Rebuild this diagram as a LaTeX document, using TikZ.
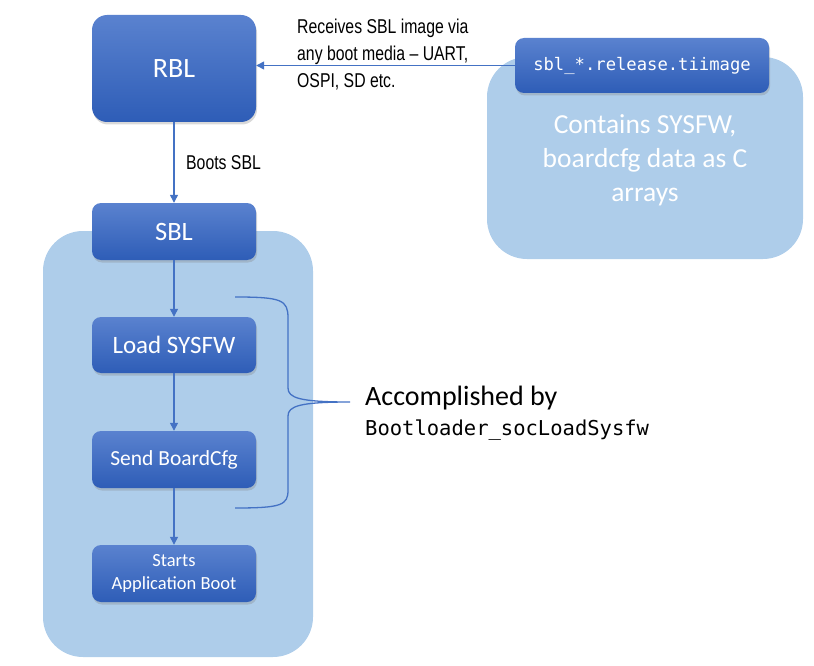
\documentclass[tikz,border=0pt]{standalone}
\usepackage{fontspec}
\setmainfont{Carlito}
\setmonofont{DejaVu Sans Mono}
\newfontfamily\condfont[FakeStretch=0.79]{Liberation Sans}
\usetikzlibrary{shadows,arrows.meta}
\definecolor{boxtop}{HTML}{5A82CF}
\definecolor{boxbot}{HTML}{2E5DB7}
\definecolor{panelc}{HTML}{AECDEA}
\definecolor{linec}{HTML}{4472C4}
\begin{document}
\begin{tikzpicture}[x=1pt,y=-1pt,
  darkbox/.style={rounded corners=9pt, top color=boxtop, bottom color=boxbot, text=white,
    inner sep=0pt, minimum width=164pt, align=center,
    drop shadow={opacity=0.3,shadow xshift=1pt,shadow yshift=-2.5pt}},
  panel/.style={fill=panelc, rounded corners=40pt, inner sep=0pt},
  conn/.style={draw=linec, line width=1.3pt, -{Triangle[length=8pt,width=8pt]}},
  bracec/.style={draw=linec, line width=1.3pt},
  condtext/.style={font=\condfont\fontsize{20}{27}\selectfont, align=left, inner sep=0pt}]
\useasboundingbox (0,0) rectangle (814,666);
% panels
\node[panel, minimum width=270pt, minimum height=426pt] (sblpanel) at (178,444) {};
\node[panel, minimum width=316pt, minimum height=202pt] (imgpanel) at (645,158) {};
\node[text=white, font=\fontsize{27.5}{34}\selectfont, align=center, inner sep=0pt] (contains) at (645,160) {Contains SYSFW,\\boardcfg data as C\\arrays};
% boxes
\node[darkbox, minimum height=107pt, rounded corners=15pt, font=\fontsize{28}{30}\selectfont] (rbl) at (174,68.5) {RBL};
\node[darkbox, minimum width=254pt, minimum height=55pt, font=\ttfamily\fontsize{17.2}{20}\selectfont] (img) at (642,65.5) {sbl\_*.release.tiimage};
\node[darkbox, minimum height=57pt, font=\fontsize{26.5}{30}\selectfont] (sbl) at (174,231.5) {SBL};
\node[darkbox, minimum height=56pt, font=\fontsize{25}{28}\selectfont] (load) at (174,345) {Load SYSFW};
\node[darkbox, minimum height=57pt, font=\fontsize{21.5}{26}\selectfont] (send) at (174,459.5) {Send BoardCfg};
\node[darkbox, minimum height=57pt, font=\fontsize{18.5}{23}\selectfont] (starts) at (174,573.5) {Starts\\Application Boot};
% connectors
\draw[conn] (img.west) -- (img.west -| rbl.east);
\draw[conn] (rbl.south) -- (sbl.north);
\draw[conn] (sbl.south) -- (load.north);
\draw[conn] (load.south) -- (send.north);
\draw[conn] (send.south) -- (starts.north);
% labels
\node[condtext, anchor=west] (recv) at (297,55) {Receives SBL image via\\any boot media – UART,\\OSPI, SD etc.};
\node[condtext, anchor=west] (boots) at (186,163) {Boots SBL};
% brace
\coordinate (bt) at (235,297);
\coordinate (bb) at (235,508);
\coordinate (btip) at (350,402);
\draw[bracec] (bt) .. controls (282,297) and (288,300) .. (288,318) -- (288,388)
  .. controls (288,398) and (300,402) .. (btip)
  .. controls (300,402) and (288,406) .. (288,416) -- (288,490)
  .. controls (288,505) and (282,508) .. (bb);
\node[anchor=west, inner sep=0pt, font=\fontsize{28}{32}\selectfont] (acc) at (365,398) {Accomplished by};
\node[anchor=west, inner sep=0pt, font=\ttfamily\fontsize{20.5}{24}\selectfont] (fn) at (365,430) {Bootloader\_socLoadSysfw};
\end{tikzpicture}
\end{document}
